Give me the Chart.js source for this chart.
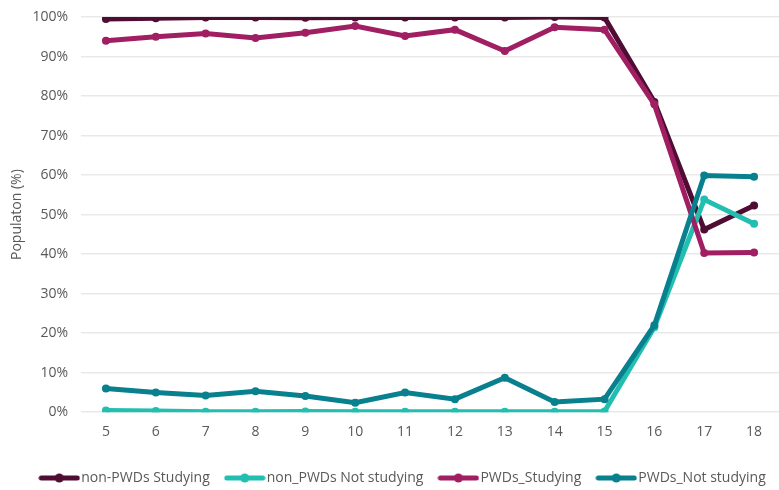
<!DOCTYPE html>
<html>
<head>
<meta charset="utf-8">
<script src="https://cdn.jsdelivr.net/npm/chart.js@4/dist/chart.umd.min.js"></script>
<style>
  html, body { margin: 0; padding: 0; background: #ffffff; }
  #wrap { width: 779px; height: 490px; }
</style>
</head>
<body>
<div id="wrap"><canvas id="chart" width="779" height="490"></canvas></div>
<script>
// Age in years
const ages = ['5', '6', '7', '8', '9', '10', '11', '12', '13', '14', '15', '16', '17', '18'];

// Share of each group (%)
const nonPwdsStudying    = [99.5, 99.7, 99.9, 99.9, 99.8, 99.9, 99.9, 99.9, 99.9, 100.0, 99.9, 78.5, 46.2, 52.3];
const nonPwdsNotStudying = [0.4, 0.3, 0.1, 0.1, 0.2, 0.1, 0.1, 0.1, 0.1, 0.1, 0.2, 21.5, 53.8, 47.7];
const pwdsStudying       = [94.0, 95.0, 95.8, 94.7, 96.0, 97.7, 95.2, 96.8, 91.4, 97.4, 96.8, 77.9, 40.3, 40.4];
const pwdsNotStudying    = [6.0, 5.0, 4.2, 5.3, 4.1, 2.4, 5.0, 3.3, 8.7, 2.6, 3.3, 22.0, 59.9, 59.6];

const seriesNames  = ['non-PWDs Studying', 'non_PWDs Not studying', 'PWDs_Studying', 'PWDs_Not studying'];
const seriesColors = ['#4f0d33', '#22bfb1', '#a01f62', '#08808d'];

// Legend swatch: a thick stroke with a dot in the middle
function swatch(color) {
  const c = document.createElement('canvas');
  c.width = 42; c.height = 10;
  const g = c.getContext('2d');
  g.strokeStyle = color;
  g.lineWidth = 5;
  g.lineCap = 'round';
  g.beginPath(); g.moveTo(3, 5); g.lineTo(39, 5); g.stroke();
  g.fillStyle = color;
  g.beginPath(); g.arc(21, 5, 4.5, 0, Math.PI * 2); g.fill();
  return c;
}

const values = [nonPwdsStudying, nonPwdsNotStudying, pwdsStudying, pwdsNotStudying];
const datasets = values.map((v, i) => ({
  label: seriesNames[i],
  data: v,
  borderColor: seriesColors[i],
  backgroundColor: seriesColors[i],
  borderWidth: 5,
  pointRadius: 4,
  pointHoverRadius: 4,
  pointBorderWidth: 0,
  tension: 0,
  order: 4 - i
}));

const txt = '#595959';
const fontFam = '"Open Sans", "Liberation Sans", sans-serif';

// Nudge the legend row a little to the right of centre
const legendShift = {
  id: 'legendShift',
  afterLayout(chart) {
    chart.legend.left += 12;
    chart.legend.right += 12;
  }
};

new Chart(document.getElementById('chart'), {
  type: 'line',
  data: { labels: ages, datasets },
  plugins: [legendShift],
  options: {
    responsive: false,
    animation: false,
    layout: { autoPadding: false, padding: { top: 17, right: -4, left: 3, bottom: -5 } },
    plugins: {
      tooltip: { enabled: false },
      legend: {
        position: 'bottom',
        labels: {
          usePointStyle: true,
          pointStyleWidth: 30,
          color: txt,
          font: { family: fontFam, size: 14 },
          padding: 20,
          generateLabels: (chart) => chart.data.datasets.map((ds, i) => ({
            text: ds.label,
            fillStyle: ds.borderColor,
            strokeStyle: ds.borderColor,
            lineWidth: 0,
            pointStyle: swatch(ds.borderColor),
            datasetIndex: i,
            hidden: false,
            fontColor: txt
          }))
        }
      }
    },
    scales: {
      x: {
        offset: true,
        grid: { display: false },
        border: { display: false },
        ticks: { color: txt, font: { family: fontFam, size: 14 }, padding: 3 },
        afterFit: (s) => { s.height += 8; s.paddingLeft = 0; s.paddingRight = 0; }
      },
      y: {
        min: 0,
        max: 100,
        grid: { color: '#e9e9e9', lineWidth: 1.5, drawTicks: false },
        border: { display: false },
        title: {
          display: true,
          text: 'Populaton (%)',
          color: txt,
          font: { family: fontFam, size: 14 },
          padding: { top: 6, bottom: 0 }
        },
        ticks: {
          stepSize: 10,
          color: txt,
          padding: 13,
          font: { family: fontFam, size: 14 },
          callback: (v) => v + '%'
        },
        afterFit: (s) => { s.width = 78; s.paddingTop = 0; s.paddingBottom = 0; }
      }
    }
  }
});
</script>
</body>
</html>
